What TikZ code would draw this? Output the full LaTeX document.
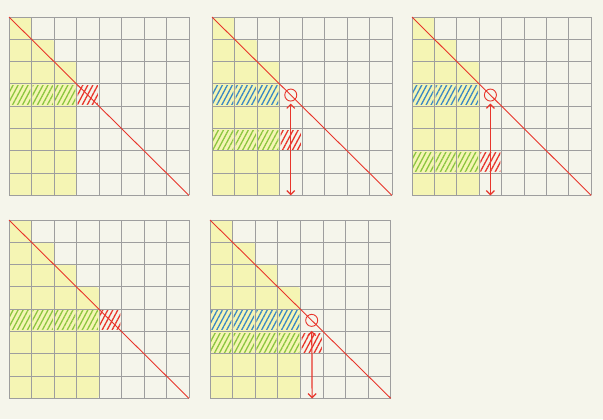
\documentclass[tikz,border=0pt]{standalone}
\definecolor{Bgcol}{HTML}{F5F5EB}
\definecolor{Gridcol}{HTML}{9E9E9E}
\definecolor{Fillcol}{HTML}{F5F5B4}
\definecolor{Diagcol}{HTML}{E8352B}
\definecolor{Gcol}{HTML}{8CC63F}
\definecolor{Bcol}{HTML}{3A88C4}
\usetikzlibrary{arrows.meta, patterns.meta}
\tikzset{
    >={Straight Barb[length=4bp,width=8bp]},
    gridline/.style={Gridcol, line width=1bp},
    diag/.style={Diagcol, line width=0.9bp},
    filled/.style={fill=Fillcol, rounded corners=3bp},
    hatchgreen/.style={pattern={Lines[angle=62,distance=4.4bp,line width=1.3bp]}, pattern color=Gcol},
    hatchblue/.style={pattern={Lines[angle=62,distance=4.4bp,line width=1.3bp]}, pattern color=Bcol},
    hatchred/.style={pattern={Lines[angle=62,distance=4.4bp,line width=1.3bp]}, pattern color=Diagcol},
    hitmark/.style={circle, draw=Diagcol, line width=0.9bp, minimum size=12bp, inner sep=0pt},
    span/.style={<->, draw=Diagcol, color=Diagcol, line width=1.2bp}
}
\begin{document}
\begin{tikzpicture}[x=1bp, y=-1bp]
    % Background
    \useasboundingbox[fill=Bgcol] (0,0) rectangle (603,419);

    % Panel 1
    \begin{scope}[shift={(9,17)}, x=22.5bp, y=-22.3bp]
        \fill[filled] (0,0) -- (1,0) -- (1,1) -- (2,1) -- (2,2) -- (3,2) -- (3,8) -- (0,8) -- cycle;
        \foreach \c in {0,1,2}
            \fill[hatchgreen] (\c+0.05,3.08) rectangle (\c+0.95,3.92);
        \fill[hatchred] (3.05,3.08) rectangle (3.95,3.92);
        \foreach \i in {0,...,8} {
            \draw[gridline] (\i,0) -- (\i,8);
            \draw[gridline] (0,\i) -- (8,\i);
        }
        \draw[diag] (0,0) -- (8,8);
    \end{scope}

    % Panel 2
    \begin{scope}[shift={(212,17)}, x=22.5bp, y=-22.3bp]
        \fill[filled] (0,0) -- (1,0) -- (1,1) -- (2,1) -- (2,2) -- (3,2) -- (3,8) -- (0,8) -- cycle;
        \foreach \c in {0,1,2} {
            \fill[hatchblue] (\c+0.05,3.08) rectangle (\c+0.95,3.92);
            \fill[hatchgreen] (\c+0.05,5.08) rectangle (\c+0.95,5.92);
        }
        \fill[hatchred] (3.05,5.08) rectangle (3.95,5.92);
        \foreach \i in {0,...,8} {
            \draw[gridline] (\i,0) -- (\i,8);
            \draw[gridline] (0,\i) -- (8,\i);
        }
        \draw[diag] (0,0) -- (8,8);
        \node[hitmark] (hitB) at (3.5,3.5) {};
        \coordinate (footB) at (3.5,8);
        \draw[span, shorten <=2bp] (hitB) -- (footB);
    \end{scope}

    % Panel 3
    \begin{scope}[shift={(412,17)}, x=22.4bp, y=-22.3bp]
        \fill[filled] (0,0) -- (1,0) -- (1,1) -- (2,1) -- (2,2) -- (3,2) -- (3,8) -- (0,8) -- cycle;
        \foreach \c in {0,1,2} {
            \fill[hatchblue] (\c+0.05,3.08) rectangle (\c+0.95,3.92);
            \fill[hatchgreen] (\c+0.05,6.08) rectangle (\c+0.95,6.92);
        }
        \fill[hatchred] (3.05,6.08) rectangle (3.95,6.92);
        \foreach \i in {0,...,8} {
            \draw[gridline] (\i,0) -- (\i,8);
            \draw[gridline] (0,\i) -- (8,\i);
        }
        \draw[diag] (0,0) -- (8,8);
        \node[hitmark] (hitC) at (3.5,3.5) {};
        \coordinate (footC) at (3.5,8);
        \draw[span, shorten <=2bp] (hitC) -- (footC);
    \end{scope}

    % Panel 4
    \begin{scope}[shift={(9,220)}, x=22.5bp, y=-22.3bp]
        \fill[filled] (0,0) -- (1,0) -- (1,1) -- (2,1) -- (2,2) -- (3,2) -- (3,3) -- (4,3) -- (4,8) -- (0,8) -- cycle;
        \foreach \c in {0,...,3}
            \fill[hatchgreen] (\c+0.05,4.08) rectangle (\c+0.95,4.92);
        \fill[hatchred] (4.05,4.08) rectangle (4.95,4.92);
        \foreach \i in {0,...,8} {
            \draw[gridline] (\i,0) -- (\i,8);
            \draw[gridline] (0,\i) -- (8,\i);
        }
        \draw[diag] (0,0) -- (8,8);
    \end{scope}

    % Panel 5
    \begin{scope}[shift={(210,220)}, x=22.6bp, y=-22.3bp]
        \fill[filled] (0,0) -- (1,0) -- (1,1) -- (2,1) -- (2,2) -- (3,2) -- (3,3) -- (4,3) -- (4,8) -- (0,8) -- cycle;
        \foreach \c in {0,...,3} {
            \fill[hatchblue] (\c+0.05,4.08) rectangle (\c+0.95,4.92);
            \fill[hatchgreen] (\c+0.05,5.08) rectangle (\c+0.95,5.92);
        }
        \fill[hatchred] (4.05,5.08) rectangle (4.95,5.92);
        \foreach \i in {0,...,8} {
            \draw[gridline] (\i,0) -- (\i,8);
            \draw[gridline] (0,\i) -- (8,\i);
        }
        \draw[diag] (0,0) -- (8,8);
        \node[hitmark] (hitE) at (4.5,4.5) {};
        \coordinate (footE) at (4.52,8);
        \draw[span, shorten <=4bp] (hitE) -- (footE);
    \end{scope}
\end{tikzpicture}
\end{document}
